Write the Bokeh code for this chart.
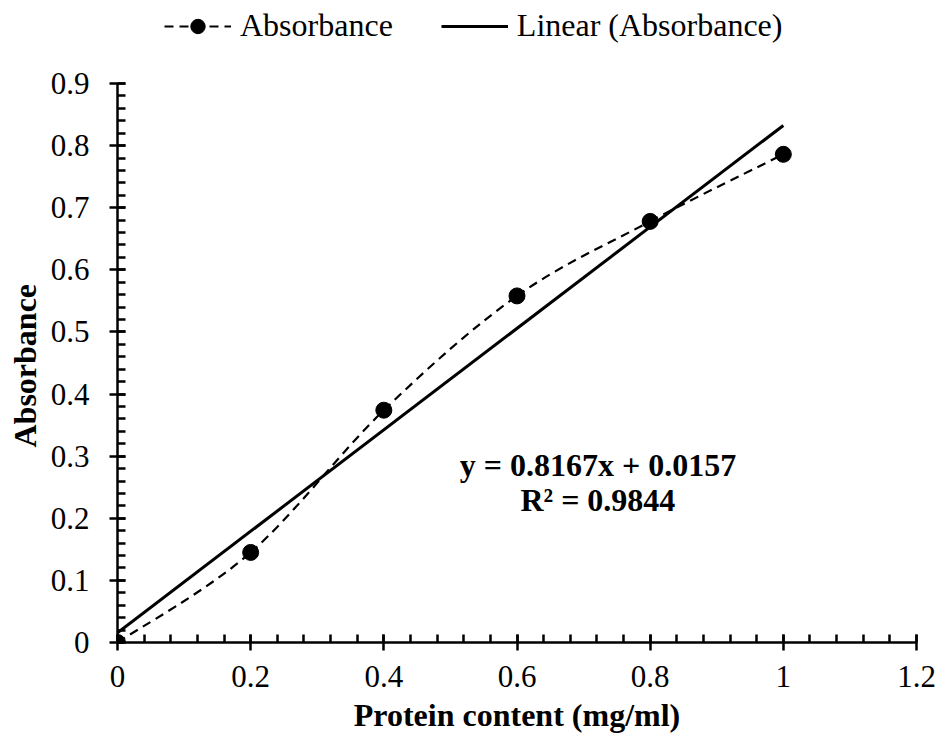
import numpy as np
from bokeh.plotting import figure
from bokeh.models import (ColumnDataSource, FixedTicker, NumeralTickFormatter, Legend,
                          LegendItem, Label, Range1d, Title)
from bokeh.embed import file_html
from bokeh.resources import INLINE

# ---- data ----
protein = [0.0, 0.2, 0.4, 0.6, 0.8, 1.0]
absorbance = [0.0, 0.145, 0.374, 0.558, 0.678, 0.786]
slope = 0.8167
intercept = 0.0157
r_squared = 0.9844
x_title = "Protein content (mg/ml)"
y_title = "Absorbance"
series_name = "Absorbance"
trend_name = "Linear (Absorbance)"

FONT = "Liberation Serif"

# layout: plot area spans px 83..642 for 0..0.9; the frame is extended up to the
# top of the canvas so that the legend (drawn inside the frame) is not clipped
X_MAX = 1.2
Y_MAX = 0.9
FRAME_H = 642
PLOT_H = 559
y_top = Y_MAX * FRAME_H / PLOT_H

p = figure(width=938, height=742, output_backend="svg", toolbar_location=None,
           x_range=Range1d(0, X_MAX), y_range=Range1d(0, y_top),
           min_border_left=116, min_border_right=22, min_border_top=0, min_border_bottom=100)
p.outline_line_color = None
p.xgrid.visible = False
p.ygrid.visible = False
p.background_fill_color = "white"
p.border_fill_color = "white"

# axes
x_major = [round(0.2 * i, 2) for i in range(7)]
x_minor = [round(0.04 * i, 2) for i in range(31)]
y_major = [round(0.1 * i, 2) for i in range(10)]
y_minor = [round(0.02 * i, 2) for i in range(46)]
p.xaxis.ticker = FixedTicker(ticks=x_major, minor_ticks=x_minor)
p.yaxis.ticker = FixedTicker(ticks=y_major, minor_ticks=y_minor)
p.xaxis.bounds = (0, X_MAX)
p.yaxis.bounds = (0, Y_MAX)
for ax in (p.xaxis, p.yaxis):
    ax.formatter = NumeralTickFormatter(format="0.[0]")
    ax.axis_line_width = 2.5
    ax.axis_line_color = "black"
    ax.major_tick_line_width = 2.5
    ax.minor_tick_line_width = 2.5
    ax.major_tick_in = 8
    ax.major_tick_out = 8
    ax.minor_tick_in = 8
    ax.minor_tick_out = 0
    ax.major_label_text_font = FONT
    ax.major_label_text_font_size = "31px"
    ax.major_label_text_color = "black"
    ax.axis_label_text_font = FONT
    ax.axis_label_text_font_size = "32px"
    ax.axis_label_text_font_style = "bold"
    ax.axis_label_text_color = "black"
p.xaxis.major_label_standoff = 15
p.yaxis.major_label_standoff = 20
p.xaxis.axis_label = x_title
p.xaxis.axis_label_standoff = 7

# y title as a left-side title, positioned at the centre of the plot area
p.add_layout(Title(text=y_title, align="left", offset=195, standoff=9,
                   text_font=FONT, text_font_size="32px", text_font_style="bold",
                   text_color="black"), "left")

# smooth dashed curve (Excel-like smoothing: Catmull-Rom -> cubic Bezier)
xs = np.array(protein)
ys = np.array(absorbance)
n = len(xs)
t = 1.0 / 6.0
x0, y0, x1, y1, cx0, cy0, cx1, cy1 = [], [], [], [], [], [], [], []
for i in range(n - 1):
    im1 = max(i - 1, 0)
    ip2 = min(i + 2, n - 1)
    x0.append(xs[i]); y0.append(ys[i])
    x1.append(xs[i + 1]); y1.append(ys[i + 1])
    cx0.append(xs[i] + (xs[i + 1] - xs[im1]) * t)
    cy0.append(ys[i] + (ys[i + 1] - ys[im1]) * t)
    cx1.append(xs[i + 1] - (xs[ip2] - xs[i]) * t)
    cy1.append(ys[i + 1] - (ys[ip2] - ys[i]) * t)
bsrc = ColumnDataSource(dict(x0=x0, y0=y0, x1=x1, y1=y1, cx0=cx0, cy0=cy0, cx1=cx1, cy1=cy1))
curve = p.bezier(x0="x0", y0="y0", x1="x1", y1="y1", cx0="cx0", cy0="cy0", cx1="cx1", cy1="cy1",
                 source=bsrc, line_color="black", line_width=2.2, line_dash="9 6")

# linear trendline
tx = [protein[0], protein[-1]]
ty = [slope * v + intercept for v in tx]
trend = p.line(tx, ty, line_color="black", line_width=3)

# points
pts = p.scatter(protein, absorbance, size=16, marker="circle", fill_color="black", line_color="black")

# legend (top, inside the extended frame)
legend = Legend(items=[LegendItem(label=series_name, renderers=[curve, pts]),
                       LegendItem(label=trend_name, renderers=[trend])],
                orientation="horizontal", location=(47, 598),
                glyph_width=67, glyph_height=36, label_standoff=9, spacing=48,
                padding=0, margin=0, border_line_color=None, background_fill_alpha=0,
                label_text_font=FONT, label_text_font_size="32px", label_text_color="black")
p.add_layout(legend, "center")

# equation
eq = f"y = {slope:.4f}x + {intercept:.4f}"
r2 = f"R² = {r_squared:.4f}"
p.add_layout(Label(x=0.7215, y=0.285, text=eq, text_align="center", text_baseline="middle",
                   text_font=FONT, text_font_size="32px", text_font_style="bold", text_color="black"))
p.add_layout(Label(x=0.7215, y=0.229, text=r2, text_align="center", text_baseline="middle",
                   text_font=FONT, text_font_size="32px", text_font_style="bold", text_color="black"))

open("out.html", "w").write(file_html(p, INLINE))
